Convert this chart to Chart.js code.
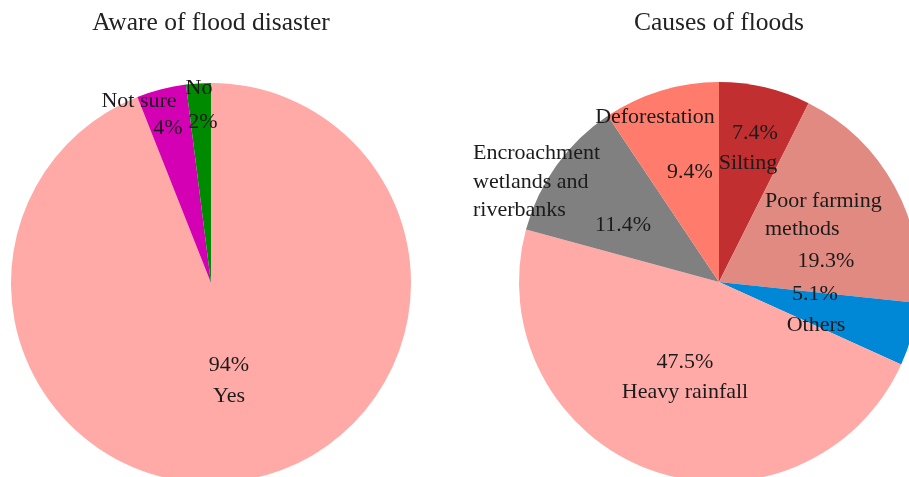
<!DOCTYPE html>
<html>
<head>
<meta charset="utf-8">
<title>Flood awareness and causes</title>
<script src="https://cdn.jsdelivr.net/npm/chart.js@4/dist/chart.umd.min.js"></script>
<style>
  html, body { margin: 0; padding: 0; background: #fff; }
  #stage { position: relative; width: 909px; height: 477px; overflow: hidden; background: #fff; }
  .pane { position: absolute; top: 0; }
  #leftPane { left: 0; width: 454px; height: 560px; }
  #rightPane { left: 455px; width: 480px; height: 560px; }
</style>
</head>
<body>
<div id="stage">
  <div class="pane" id="leftPane"><canvas id="awareChart"></canvas></div>
  <div class="pane" id="rightPane"><canvas id="causesChart"></canvas></div>
</div>
<script>
// Survey answers: awareness of flood disaster (%)
const awareLabels = ['Yes', 'Not sure', 'No'];
const awareValues = [94, 4, 2];

// Perceived causes of floods (%)
const causeLabels = ['Silting', 'Poor farming methods', 'Others', 'Heavy rainfall',
                     'Encroachment wetlands and riverbanks', 'Deforestation'];
const causeValues = [7.4, 19.3, 5.1, 47.5, 11.4, 9.4];

const awareColors = ['#FFAAA6', '#D400B4', '#008A00'];
const causeColors = ['#C22F30', '#E08A82', '#0088D6', '#FFAAA6', '#808080', '#FF7B6B'];

const FONT = '"Liberation Serif", "Times New Roman", serif';
const TEXT_COLOR = '#1b1b1b';

// Text placed around each slice: offsets in px from the pie centre.
// Each entry: [lineText, dx, dy, align]; '%v' is replaced by the slice value.
const awareText = [
  [['%v', 18, 82, 'center'], ['Yes', 18, 113, 'center']],
  [['Not sure', -72, -182, 'center'], ['%v', -43, -155, 'center']],
  [['No', -12, -195, 'center'], ['%v', -8, -161, 'center']]
];
const causeText = [
  [['%v', 36, -149, 'center'], ['Silting', 29, -119, 'center']],
  [['Poor farming', 46, -81, 'left'], ['methods', 46, -53, 'left'], ['%v', 107, -21, 'center']],
  [['%v', 96, 12, 'center'], ['Others', 97, 43, 'center']],
  [['%v', -34, 80, 'center'], ['Heavy rainfall', -34, 110, 'center']],
  [['Encroachment', -246, -129, 'left'], ['wetlands and', -246, -100, 'left'],
   ['riverbanks', -246, -72, 'left'], ['%v', -96, -57, 'center']],
  [['Deforestation', -64, -165, 'center'], ['%v', -29, -110, 'center']]
];

const sliceText = {
  id: 'sliceText',
  afterDatasetsDraw(chart, args, opts) {
    const ctx = chart.ctx;
    const meta = chart.getDatasetMeta(0);
    const values = chart.data.datasets[0].data;
    const ca = chart.chartArea;
    ctx.save();
    ctx.fillStyle = TEXT_COLOR;
    ctx.textBaseline = 'middle';
    ctx.font = opts.size + 'px ' + FONT;
    meta.data.forEach((arc, i) => {
      const cx = arc.x, cy = arc.y;
      (opts.lines[i] || []).forEach(([txt, dx, dy, align]) => {
        ctx.textAlign = align;
        ctx.fillText(txt.replace('%v', values[i] + '%'), cx + dx, cy + dy);
      });
    });
    // heading above the pie
    ctx.font = opts.titleSize + 'px ' + FONT;
    ctx.textAlign = 'center';
    ctx.fillStyle = '#222';
    ctx.fillText(opts.title, (ca.left + ca.right) / 2 + opts.titleDx, opts.titleY);
    ctx.restore();
  }
};

function makePie(id, labels, values, colors, padding, textOpts) {
  return new Chart(document.getElementById(id), {
    type: 'pie',
    data: {
      labels: labels,
      datasets: [{ data: values, backgroundColor: colors, borderWidth: 0 }]
    },
    options: {
      responsive: true,
      maintainAspectRatio: false,
      animation: false,
      layout: { padding: padding },
      plugins: {
        legend: { display: false },
        tooltip: { enabled: false },
        sliceText: textOpts
      }
    },
    plugins: [sliceText]
  });
}

makePie('awareChart', awareLabels, awareValues, awareColors,
  { left: 11, top: 83, right: 43, bottom: 77 },
  { lines: awareText, size: 22, title: 'Aware of flood disaster', titleSize: 25.5, titleY: 23, titleDx: 0 });

makePie('causesChart', causeLabels, causeValues, causeColors,
  { left: 64, top: 82, right: 16, bottom: 78 },
  { lines: causeText, size: 22, title: 'Causes of floods', titleSize: 25.5, titleY: 23, titleDx: 0 });
</script>
</body>
</html>
